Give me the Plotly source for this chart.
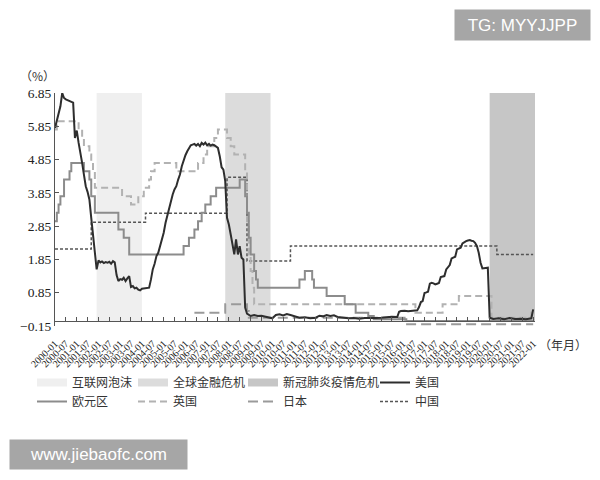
import plotly.graph_objects as go

# ---------------- data ----------------
tick_labels = [
    "2000-01", "2000-07", "2001-01", "2001-07", "2002-01", "2002-07", "2003-01", "2003-07",
    "2004-01", "2004-07", "2005-01", "2005-07", "2006-01", "2006-07", "2007-01", "2007-07",
    "2008-01", "2008-07", "2009-01", "2009-07", "2010-01", "2010-07", "2011-01", "2011-07",
    "2012-01", "2012-07", "2013-01", "2013-07", "2014-01", "2014-07", "2015-01", "2015-07",
    "2016-01", "2016-07", "2017-01", "2017-07", "2018-01", "2018-07", "2019-01", "2019-07",
    "2020-01", "2020-07", "2021-01", "2021-07", "2022-01",
]
y_ticks = [-0.15, 0.85, 1.85, 2.85, 3.85, 4.85, 5.85, 6.85]

crisis_names = ["互联网泡沫", "全球金融危机", "新冠肺炎疫情危机"]
crisis_start = ["2001-12", "2007-11", "2020-01"]
crisis_end = ["2004-01", "2009-12", "2022-02"]
crisis_colors = ["#efefef", "#dcdcdc", "#c6c6c6"]

# 美国 (monthly readings)
us_dates = [
    "2000-01", "2000-02", "2000-03", "2000-04", "2000-05", "2000-06", "2000-07", "2000-08",
    "2000-09", "2000-10", "2000-11", "2000-12", "2001-01", "2001-02", "2001-03", "2001-04",
    "2001-05", "2001-06", "2001-07", "2001-08", "2001-09", "2001-10", "2001-11", "2001-12",
    "2002-01", "2002-02", "2002-03", "2002-04", "2002-05", "2002-06", "2002-07", "2002-08",
    "2002-09", "2002-10", "2002-11", "2002-12", "2003-01", "2003-02", "2003-03", "2003-04",
    "2003-05", "2003-06", "2003-07", "2003-08", "2003-09", "2003-10", "2003-11", "2003-12",
    "2004-01", "2004-02", "2004-03", "2004-04", "2004-05", "2004-06", "2004-07", "2004-08",
    "2004-09", "2004-10", "2004-11", "2004-12", "2005-01", "2005-02", "2005-03", "2005-04",
    "2005-05", "2005-06", "2005-07", "2005-08", "2005-09", "2005-10", "2005-11", "2005-12",
    "2006-01", "2006-02", "2006-03", "2006-04", "2006-05", "2006-06", "2006-07", "2006-08",
    "2006-09", "2006-10", "2006-11", "2006-12", "2007-01", "2007-02", "2007-03", "2007-04",
    "2007-05", "2007-06", "2007-07", "2007-08", "2007-09", "2007-10", "2007-11", "2007-12",
    "2008-01", "2008-02", "2008-03", "2008-04", "2008-05", "2008-06", "2008-07", "2008-08",
    "2008-09", "2008-10", "2008-11", "2008-12",
    "2009-01", "2009-03", "2009-05", "2009-07", "2009-09", "2009-11",
    "2010-01", "2010-03", "2010-05", "2010-07", "2010-09", "2010-11",
    "2011-01", "2011-04", "2011-07", "2011-10",
    "2012-01", "2012-03", "2012-05", "2012-07", "2012-09", "2012-11",
    "2013-01", "2013-04", "2013-07", "2013-10",
    "2014-01", "2014-04", "2014-07", "2014-10",
    "2015-01", "2015-04", "2015-07", "2015-10", "2015-11", "2015-12",
    "2016-02", "2016-04", "2016-06", "2016-08", "2016-09", "2016-10", "2016-11", "2016-12",
    "2017-01", "2017-02", "2017-03", "2017-04", "2017-05", "2017-06", "2017-07", "2017-08",
    "2017-09", "2017-10", "2017-11", "2017-12", "2018-01", "2018-02", "2018-03", "2018-04",
    "2018-05", "2018-06", "2018-07", "2018-08", "2018-09", "2018-10", "2018-11", "2018-12",
    "2019-01", "2019-02", "2019-03", "2019-04", "2019-05", "2019-06", "2019-07", "2019-08",
    "2019-09", "2019-10", "2019-11", "2019-12",
    "2020-01", "2020-03", "2020-06", "2020-09", "2020-12", "2021-03", "2021-06", "2021-09",
    "2021-12", "2022-01",
]
us_values = [
    5.80, 6.05, 6.20, 6.45, 6.85, 6.70, 6.66, 6.64,
    6.62, 6.60, 6.56, 5.50, 5.72, 5.35, 5.10, 4.75,
    4.40, 4.05, 3.88, 3.65, 3.10, 2.65, 2.10, 1.55,
    1.82, 1.76, 1.79, 1.74, 1.77, 1.75, 1.78, 1.72,
    1.80, 1.76, 1.38, 1.20, 1.26, 1.24, 1.30, 1.20,
    1.28, 1.35, 1.02, 1.05, 0.98, 1.00, 0.94, 0.92,
    0.97, 0.98, 1.00, 1.00, 1.00, 1.25, 1.55, 1.72,
    1.95, 2.05, 2.25, 2.45, 2.65, 2.95, 3.15, 3.40,
    3.60, 3.80, 3.95, 4.05, 4.25, 4.40, 4.65, 4.85,
    4.98, 5.10, 5.20, 5.28, 5.30, 5.32, 5.27, 5.32,
    5.25, 5.35, 5.30, 5.36, 5.28, 5.32, 5.27, 5.30,
    5.28, 5.25, 5.20, 4.95, 4.62, 4.55, 4.20, 3.10,
    2.90, 2.60, 2.35, 2.00, 2.45, 2.00, 2.25, 1.90,
    1.85, 0.40, 0.22, 0.18,
    0.15, 0.18, 0.15, 0.16, 0.13, 0.12,
    0.08, 0.18, 0.20, 0.17, 0.21, 0.18,
    0.14, 0.10, 0.11, 0.08,
    0.10, 0.16, 0.14, 0.18, 0.15, 0.17,
    0.12, 0.10, 0.08, 0.09,
    0.07, 0.09, 0.08, 0.09,
    0.10, 0.12, 0.13, 0.12, 0.28, 0.30,
    0.31, 0.29, 0.30, 0.31, 0.32, 0.42, 0.57, 0.60,
    0.84, 0.86, 0.88, 1.12, 1.15, 1.13, 1.10, 1.12,
    1.14, 1.32, 1.33, 1.35, 1.55, 1.63, 1.68, 1.88,
    1.90, 1.93, 2.15, 2.18, 2.20, 2.33, 2.38, 2.40,
    2.42, 2.43, 2.41, 2.40, 2.35, 2.25, 2.05, 1.75,
    1.58, 1.58, 1.60, 1.60,
    0.10, 0.06, 0.08, 0.05, 0.09, 0.06, 0.07, 0.05,
    0.08, 0.35,
]

# 欧元区 (step changes)
ecb_dates = [
    "2000-01", "2000-02", "2000-03", "2000-04", "2000-06", "2000-09", "2000-10", "2001-05",
    "2001-08", "2001-09", "2001-11", "2002-12", "2003-03", "2003-06", "2005-12", "2006-03",
    "2006-06", "2006-08", "2006-10", "2006-12", "2007-03", "2007-06", "2008-07", "2008-10",
    "2008-11", "2008-12", "2009-01", "2009-03", "2009-04", "2009-05", "2011-04", "2011-07",
    "2011-11", "2011-12", "2012-07", "2013-05", "2013-11", "2014-06", "2014-09", "2016-03",
    "2022-01",
]
ecb_rates = [
    3.00, 3.25, 3.50, 3.75, 4.25, 4.50, 4.75, 4.50,
    4.25, 3.75, 3.25, 2.75, 2.50, 2.00, 2.25, 2.50,
    2.75, 3.00, 3.25, 3.50, 3.75, 4.00, 4.25, 3.75,
    3.25, 2.50, 2.00, 1.50, 1.25, 1.00, 1.25, 1.50,
    1.25, 1.00, 0.75, 0.50, 0.25, 0.15, 0.05, 0.00,
    0.00,
]

# 英国 (step changes)
uk_dates = [
    "2000-01", "2000-02", "2001-02", "2001-04", "2001-05", "2001-08", "2001-09", "2001-10",
    "2001-11", "2003-02", "2003-07", "2003-11", "2004-02", "2004-05", "2004-06", "2004-08",
    "2005-08", "2006-08", "2006-11", "2007-01", "2007-05", "2007-07", "2007-12", "2008-02",
    "2008-04", "2008-10", "2008-11", "2008-12", "2009-01", "2009-02", "2009-03", "2016-08",
    "2017-11", "2018-08", "2020-02", "2021-12", "2022-01",
]
uk_rates = [
    5.75, 6.00, 5.75, 5.50, 5.25, 5.00, 4.75, 4.50,
    4.00, 3.75, 3.50, 3.75, 4.00, 4.25, 4.50, 4.75,
    4.50, 4.75, 5.00, 5.25, 5.50, 5.75, 5.50, 5.25,
    5.00, 4.50, 3.00, 2.00, 1.50, 1.00, 0.50, 0.25,
    0.50, 0.75, 0.10, 0.25, 0.25,
]

# 日本 (step changes)
jp_dates = ["2006-06", "2007-11", "2008-11", "2008-12", "2016-02", "2022-01"]
jp_rates = [0.25, 0.50, 0.30, 0.10, -0.10, -0.10]

# 中国 (step changes)
cn_dates = ["2000-01", "2001-09", "2004-03", "2007-12", "2008-11", "2010-11", "2020-05", "2022-01"]
cn_rates = [2.16, 2.97, 3.24, 4.32, 1.80, 2.25, 2.00, 2.00]

# ---------------- figure ----------------
W, H = 600, 480
ML, MR, MT, MB = 55, 65, 93, 154
PW, PH = W - ML - MR, H - MT - MB


def px(xp):
    return (xp - ML) / PW


def py(yp):
    return (H - MB - yp) / PH


SERIF = "Liberation Serif, Noto Sans CJK SC"
CJK = "Noto Sans CJK SC, Liberation Serif"

fig = go.Figure()

# legend-only entries for the shaded crisis periods
for k in range(3):
    fig.add_trace(go.Scatter(
        x=[None], y=[None], mode="lines", name=crisis_names[k],
        line=dict(color=crisis_colors[k], width=8),
        legend=["legend", "legend2", "legend3"][k], legendrank=1,
    ))

fig.add_trace(go.Scatter(
    x=cn_dates, y=cn_rates, mode="lines", name="中国", line_shape="hv",
    line=dict(color="#555555", width=1.5, dash="3px,2px"), legend="legend4", legendrank=2,
))
fig.add_trace(go.Scatter(
    x=jp_dates, y=jp_rates, mode="lines", name="日本", line_shape="hv",
    line=dict(color="#9a9a9a", width=2, dash="10px,5px"), legend="legend3", legendrank=2,
))
fig.add_trace(go.Scatter(
    x=uk_dates, y=uk_rates, mode="lines", name="英国", line_shape="hv",
    line=dict(color="#b2b2b2", width=2, dash="7px,4px"), legend="legend2", legendrank=2,
))
fig.add_trace(go.Scatter(
    x=ecb_dates, y=ecb_rates, mode="lines", name="欧元区", line_shape="hv",
    line=dict(color="#8c8c8c", width=2), legend="legend", legendrank=2,
))
fig.add_trace(go.Scatter(
    x=us_dates, y=us_values, mode="lines", name="美国",
    line=dict(color="#2e2e2e", width=2), legend="legend4", legendrank=1,
))

shapes = []
for k in range(3):
    shapes.append(dict(
        type="rect", xref="x", yref="y", x0=crisis_start[k], x1=crisis_end[k],
        y0=0, y1=6.85, fillcolor=crisis_colors[k], line=dict(width=0), layer="below",
    ))

leg_common = dict(
    orientation="v", xanchor="left", yanchor="top", bgcolor="rgba(0,0,0,0)",
    font=dict(family=CJK, size=12, color="#333333"), tracegroupgap=0,
)
leg_y = py(368)

fig.update_layout(
    width=W, height=H,
    margin=dict(l=ML, r=MR, t=MT, b=MB),
    paper_bgcolor="white", plot_bgcolor="white",
    font=dict(family=SERIF, size=12, color="#333333"),
    shapes=shapes,
    xaxis=dict(
        type="date", range=["2000-01-01", "2022-02-01"],
        tickmode="array", tickvals=tick_labels, ticktext=tick_labels,
        tickangle=-45, tickfont=dict(family=SERIF, size=10, color="#222222"),
        showline=True, linecolor="#555555", linewidth=1,
        ticks="inside", ticklen=4, tickcolor="#555555",
        showgrid=False, zeroline=False,
        anchor="free", position=0.15 / 7.0, ticklabelstandoff=12,
    ),
    yaxis=dict(
        range=[-0.15, 6.85], tickmode="array", tickvals=y_ticks, tickformat=".2f",
        tickfont=dict(family=SERIF, size=13.5, color="#222222"),
        showline=True, linecolor="#555555", linewidth=1,
        ticks="inside", ticklen=4, tickcolor="#555555",
        showgrid=False, zeroline=False,
    ),
    legend=dict(x=px(32), y=leg_y, **leg_common),
    legend2=dict(x=px(133), y=leg_y, **leg_common),
    legend3=dict(x=px(243), y=leg_y, **leg_common),
    legend4=dict(x=px(375), y=leg_y, **leg_common),
    annotations=[
        dict(text="（%）", x=px(37), y=py(75), xref="paper", yref="paper",
             xanchor="center", yanchor="middle",
             showarrow=False, font=dict(family=CJK, size=12, color="#333333")),
        dict(text="（年月）", x=px(563), y=py(344), xref="paper", yref="paper",
             xanchor="center", yanchor="middle",
             showarrow=False, font=dict(family=CJK, size=12, color="#333333")),
        dict(text="TG: MYYJJPP", x=px(522.5), y=py(25), xref="paper", yref="paper",
             xanchor="center", yanchor="middle",
             showarrow=False, width=135, height=30, borderpad=0, bgcolor="#a6a6a6",
             font=dict(family="Liberation Sans, Arial", size=17, color="white")),
        dict(text="www.jiebaofc.com", x=px(98.5), y=py(454.5), xref="paper", yref="paper",
             xanchor="center", yanchor="middle",
             showarrow=False, width=177, height=29, borderpad=0, bgcolor="#a6a6a6",
             font=dict(family="Liberation Sans, Arial", size=17, color="white")),
    ],
)

fig.write_html(
    "out.html",
    config={"displayModeBar": False},
    post_script="document.body.style.margin='0';",
)
